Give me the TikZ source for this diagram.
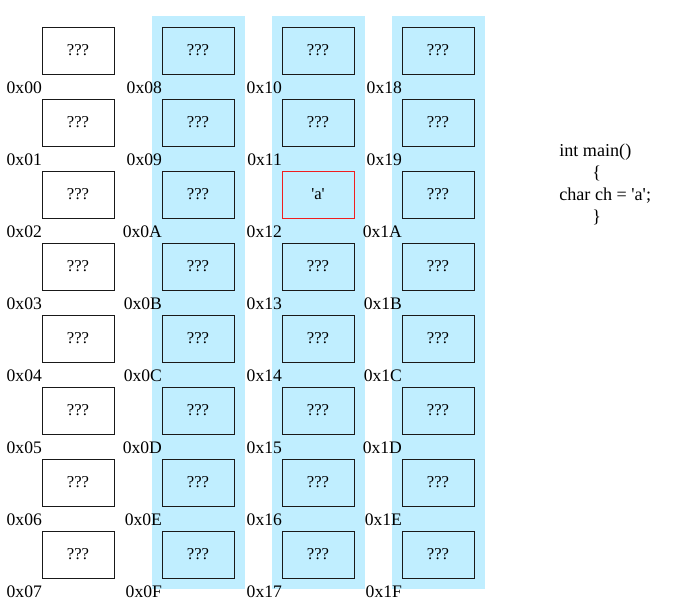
\documentclass[tikz,border=0pt]{standalone}
\usepackage{fontspec}
\setmainfont{Liberation Serif}
\usepackage{tikz}
\usetikzlibrary{positioning}
\usepackage{xcolor}
\definecolor{membg}{RGB}{192,238,255}
\definecolor{memred}{RGB}{240,30,30}

\tikzset{
  cell/.style={rectangle, draw=black!90, line width=.75pt, minimum width=54pt, minimum height=35.25pt, inner sep=0pt, font=\fontsize{12.5}{14}\selectfont},
  addr/.style={label distance=0pt, yshift=-5.5pt, xshift=.5pt, font=\fontsize{13.2}{15}\selectfont, inner sep=0pt},
  code/.style={anchor=base west, inner sep=0pt, font=\fontsize{13.6}{15}\selectfont}
}

\begin{document}
\begin{tikzpicture}[x=.75pt, y=-.75pt]
  \useasboundingbox (0, 0) rectangle (673, 607);

  % shaded columns
  \fill[membg] (152, 16) rectangle (245, 589);
  \fill[membg] (272, 16) rectangle (365, 589);
  \fill[membg] (392, 16) rectangle (485, 589);

  \node[cell, label={[addr]south west:0x00}] (m00) at (78, 50.5) {???};
  \node[cell, label={[addr]south west:0x01}] (m01) at (78, 122.5) {???};
  \node[cell, label={[addr]south west:0x02}] (m02) at (78, 194.5) {???};
  \node[cell, label={[addr]south west:0x03}] (m03) at (78, 266.5) {???};
  \node[cell, label={[addr]south west:0x04}] (m04) at (78, 338.5) {???};
  \node[cell, label={[addr]south west:0x05}] (m05) at (78, 410.5) {???};
  \node[cell, label={[addr]south west:0x06}] (m06) at (78, 482.5) {???};
  \node[cell, label={[addr]south west:0x07}] (m07) at (78, 554.5) {???};

  \node[cell, label={[addr]south west:0x08}] (m08) at (198, 50.5) {???};
  \node[cell, label={[addr]south west:0x09}] (m09) at (198, 122.5) {???};
  \node[cell, label={[addr]south west:0x0A}] (m0A) at (198, 194.5) {???};
  \node[cell, label={[addr]south west:0x0B}] (m0B) at (198, 266.5) {???};
  \node[cell, label={[addr]south west:0x0C}] (m0C) at (198, 338.5) {???};
  \node[cell, label={[addr]south west:0x0D}] (m0D) at (198, 410.5) {???};
  \node[cell, label={[addr]south west:0x0E}] (m0E) at (198, 482.5) {???};
  \node[cell, label={[addr]south west:0x0F}] (m0F) at (198, 554.5) {???};

  \node[cell, label={[addr]south west:0x10}] (m10) at (318, 50.5) {???};
  \node[cell, label={[addr]south west:0x11}] (m11) at (318, 122.5) {???};
  \node[cell, draw=memred, label={[addr]south west:0x12}] (m12) at (318, 194.5) {\textquotesingle a\textquotesingle};
  \node[cell, label={[addr]south west:0x13}] (m13) at (318, 266.5) {???};
  \node[cell, label={[addr]south west:0x14}] (m14) at (318, 338.5) {???};
  \node[cell, label={[addr]south west:0x15}] (m15) at (318, 410.5) {???};
  \node[cell, label={[addr]south west:0x16}] (m16) at (318, 482.5) {???};
  \node[cell, label={[addr]south west:0x17}] (m17) at (318, 554.5) {???};

  \node[cell, label={[addr]south west:0x18}] (m18) at (438, 50.5) {???};
  \node[cell, label={[addr]south west:0x19}] (m19) at (438, 122.5) {???};
  \node[cell, label={[addr]south west:0x1A}] (m1A) at (438, 194.5) {???};
  \node[cell, label={[addr]south west:0x1B}] (m1B) at (438, 266.5) {???};
  \node[cell, label={[addr]south west:0x1C}] (m1C) at (438, 338.5) {???};
  \node[cell, label={[addr]south west:0x1D}] (m1D) at (438, 410.5) {???};
  \node[cell, label={[addr]south west:0x1E}] (m1E) at (438, 482.5) {???};
  \node[cell, label={[addr]south west:0x1F}] (m1F) at (438, 554.5) {???};

  % source snippet
  \node[code] (main) at (559, 156) {int main()};
  \node[code] (open) at (592, 178) {\{};
  \node[code] (decl) at (559, 200) {char ch = \textquotesingle a\textquotesingle;};
  \node[code] (close) at (592, 222) {\}};
\end{tikzpicture}
\end{document}
